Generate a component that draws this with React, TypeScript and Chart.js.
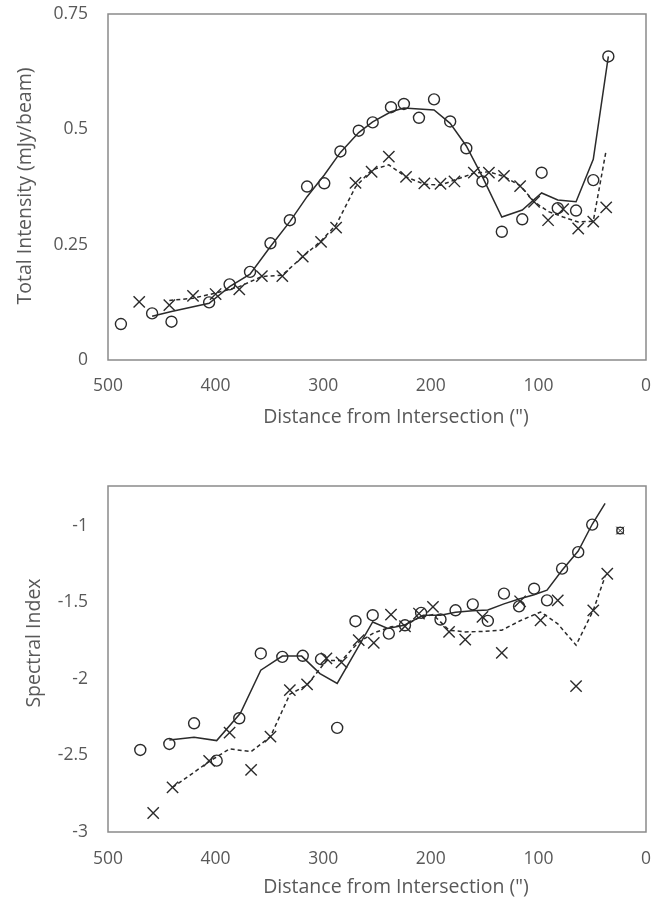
import React, { useEffect, useRef } from "react";
import { Chart, registerables } from "chart.js";

Chart.register(...registerables);

// ---------- Top panel: Total Intensity ----------
const topCircleX = [488, 459, 441, 406, 387, 368, 349, 331, 315, 299, 284, 267, 254, 237, 225, 211, 197, 182, 167, 152, 134, 115, 97, 82, 65, 49, 35];
const topCircleY = [0.078, 0.101, 0.083, 0.125, 0.164, 0.191, 0.253, 0.303, 0.376, 0.383, 0.452, 0.497, 0.515, 0.548, 0.555, 0.525, 0.565, 0.517, 0.459, 0.387, 0.278, 0.305, 0.406, 0.329, 0.324, 0.39, 0.658];
const topSolidX = [459, 441, 406, 387, 368, 349, 331, 315, 299, 284, 267, 254, 237, 225, 211, 197, 182, 167, 152, 134, 115, 97, 82, 65, 49, 35];
const topSolidY = [0.095, 0.105, 0.123, 0.159, 0.186, 0.246, 0.3, 0.354, 0.401, 0.45, 0.493, 0.516, 0.538, 0.546, 0.544, 0.542, 0.513, 0.464, 0.397, 0.31, 0.325, 0.362, 0.347, 0.343, 0.435, 0.658];
const topCrossX = [471, 443, 421, 400, 378, 357, 338, 319, 302, 288, 270, 255, 239, 223, 206, 191, 178, 160, 146, 132, 117, 104, 91, 77, 63, 49, 37];
const topCrossY = [0.126, 0.119, 0.139, 0.143, 0.153, 0.182, 0.182, 0.224, 0.256, 0.287, 0.384, 0.408, 0.441, 0.397, 0.383, 0.382, 0.387, 0.406, 0.406, 0.399, 0.377, 0.343, 0.303, 0.327, 0.285, 0.3, 0.331];
const topDashX = [443, 421, 400, 378, 357, 338, 319, 302, 288, 270, 255, 239, 223, 206, 191, 178, 160, 146, 132, 117, 104, 91, 77, 63, 49, 37];
const topDashY = [0.129, 0.134, 0.145, 0.159, 0.181, 0.184, 0.224, 0.258, 0.293, 0.375, 0.412, 0.423, 0.397, 0.381, 0.379, 0.39, 0.405, 0.408, 0.398, 0.378, 0.343, 0.322, 0.31, 0.299, 0.301, 0.455];
const topYTicks = [0, 0.25, 0.5, 0.75];
const topYTitle = "Total Intensity (mJy/beam)";

// ---------- Bottom panel: Spectral Index ----------
const botCircleX = [470, 443, 420, 399, 378, 358, 338, 319, 302, 287, 270, 254, 239, 224, 209, 191, 177, 161, 147, 132, 118, 104, 92, 78, 63, 50];
const botCircleY = [-2.464, -2.425, -2.29, -2.534, -2.257, -1.834, -1.856, -1.849, -1.871, -2.32, -1.623, -1.584, -1.704, -1.65, -1.569, -1.612, -1.552, -1.513, -1.621, -1.443, -1.526, -1.411, -1.487, -1.28, -1.172, -0.992];
const botSolidX = [443, 420, 399, 377, 358, 338, 320, 303, 287, 254, 240, 225, 207, 191, 177, 161, 147, 132, 118, 104, 92, 78, 63, 50, 38];
const botSolidY = [-2.399, -2.381, -2.403, -2.225, -1.943, -1.851, -1.851, -1.965, -2.03, -1.628, -1.67, -1.65, -1.584, -1.584, -1.565, -1.555, -1.55, -1.51, -1.478, -1.45, -1.42, -1.29, -1.165, -0.99, -0.853];
const botCrossX = [458, 440, 406, 387, 367, 349, 331, 315, 297, 283, 267, 253, 237, 224, 211, 198, 183, 168, 152, 134, 117, 98, 82, 65, 49, 36];
const botCrossY = [-2.876, -2.709, -2.536, -2.351, -2.594, -2.377, -2.073, -2.036, -1.866, -1.892, -1.747, -1.765, -1.58, -1.656, -1.573, -1.53, -1.693, -1.743, -1.595, -1.83, -1.493, -1.617, -1.487, -2.047, -1.552, -1.313];
const botDashX = [440, 406, 387, 367, 349, 331, 315, 297, 283, 267, 253, 237, 224, 211, 198, 183, 168, 152, 134, 117, 98, 82, 65, 49, 38];
const botDashY = [-2.709, -2.54, -2.457, -2.475, -2.377, -2.1, -2.04, -1.88, -1.88, -1.76, -1.7, -1.66, -1.65, -1.6, -1.58, -1.682, -1.693, -1.69, -1.682, -1.62, -1.563, -1.64, -1.78, -1.552, -1.33];
const botOutlierX = [24];
const botOutlierY = [-1.031];
const botYTicks = [-3, -2.5, -2, -1.5, -1];
const botYTitle = "Spectral Index";

const xTicks = [500, 400, 300, 200, 100, 0];
const xTitle = 'Distance from Intersection (")';

const TEXT = "#595959";
const INK = "#2b2b2b";
const FRAME = "#8a8a8a";
const FONT = "'Open Sans', 'DejaVu Sans', sans-serif";
const TICK_SIZE = 17.5;
const TITLE_SIZE = 19.5;

const pts = (xs: number[], ys: number[]) => xs.map((x, i) => ({ x, y: ys[i] }));

const framePlugin = {
  id: "frame",
  beforeDatasetsDraw(chart: any) {
    const { ctx, chartArea } = chart;
    ctx.save();
    ctx.strokeStyle = FRAME;
    ctx.lineWidth = 1.5;
    ctx.strokeRect(chartArea.left, chartArea.top, chartArea.right - chartArea.left, chartArea.bottom - chartArea.top);
    ctx.restore();
  },
};

// Axis titles placed where the reference has them (slightly off-centre like Excel)
const axisTitlePlugin = {
  id: "axisTitles",
  afterDraw(chart: any, _args: any, o: any) {
    const { ctx } = chart;
    ctx.save();
    ctx.fillStyle = TEXT;
    ctx.font = `${TITLE_SIZE}px ${FONT}`;
    ctx.textAlign = "center";
    ctx.textBaseline = "middle";
    ctx.fillText(o.xText, o.xPos[0], o.xPos[1]);
    ctx.translate(o.yPos[0], o.yPos[1]);
    ctx.rotate(-Math.PI / 2);
    ctx.fillText(o.yText, 0, 0);
    ctx.restore();
  },
};

function makeConfig(opts: any) {
  const datasets: any[] = [
    {
      data: pts(opts.solidX, opts.solidY),
      showLine: true,
      borderColor: INK,
      borderWidth: 1.5,
      pointRadius: 0,
      tension: 0,
    },
    {
      data: pts(opts.dashX, opts.dashY),
      showLine: true,
      borderColor: INK,
      borderWidth: 1.5,
      borderDash: [4, 3],
      pointRadius: 0,
      tension: 0,
    },
    {
      data: pts(opts.circleX, opts.circleY),
      pointStyle: "circle",
      pointRadius: 5.5,
      pointBorderWidth: 1.4,
      pointBorderColor: INK,
      pointBackgroundColor: "rgba(0,0,0,0)",
      showLine: false,
    },
    {
      data: pts(opts.crossX, opts.crossY),
      pointStyle: "crossRot",
      pointRadius: 8,
      pointBorderWidth: 1.4,
      pointBorderColor: INK,
      showLine: false,
    },
  ];
  if (opts.outX) {
    datasets.push(
      { data: pts(opts.outX, opts.outY), pointStyle: "rect", pointRadius: 4.5, pointBorderWidth: 1, pointBorderColor: INK, pointBackgroundColor: "rgba(0,0,0,0)", showLine: false },
      { data: pts(opts.outX, opts.outY), pointStyle: "circle", pointRadius: 3.5, pointBorderWidth: 1, pointBorderColor: INK, pointBackgroundColor: "rgba(0,0,0,0)", showLine: false },
      { data: pts(opts.outX, opts.outY), pointStyle: "crossRot", pointRadius: 5.5, pointBorderWidth: 1, pointBorderColor: INK, showLine: false }
    );
  }
  return {
    type: "scatter",
    data: { datasets },
    plugins: [framePlugin, axisTitlePlugin],
    options: {
      animation: false,
      responsive: false,
      maintainAspectRatio: false,
      events: [],
      layout: { padding: { left: 0, right: 25, top: opts.padTop, bottom: opts.padBottom } },
      plugins: {
        legend: { display: false },
        tooltip: { enabled: false },
        axisTitles: { xText: xTitle, yText: opts.yTitle, xPos: opts.xTitlePos, yPos: opts.yTitlePos },
      },
      scales: {
        x: {
          type: "linear",
          reverse: true,
          min: 0,
          max: 500,
          grid: { display: false, drawTicks: false },
          border: { display: false },
          afterBuildTicks: (s: any) => {
            s.ticks = xTicks.map((v) => ({ value: v }));
          },
          afterFit: (s: any) => {
            s.height = opts.xAxisH;
            s.paddingLeft = 0;
            s.paddingRight = 0;
          },
          ticks: {
            color: TEXT,
            font: { family: FONT, size: TICK_SIZE },
            padding: opts.xTickPad,
            maxRotation: 0,
            callback: (v: number) => String(v),
          },
          title: { display: false },
        },
        y: {
          type: "linear",
          min: opts.yMin,
          max: opts.yMax,
          grid: { display: false, drawTicks: false },
          border: { display: false },
          afterBuildTicks: (s: any) => {
            s.ticks = opts.yTicks.map((v: number) => ({ value: v }));
          },
          afterFit: (s: any) => {
            s.width = 108;
            s.paddingTop = 0;
            s.paddingBottom = 0;
          },
          ticks: {
            color: TEXT,
            font: { family: FONT, size: TICK_SIZE },
            padding: 20,
            callback: (v: number) => String(v),
          },
          title: { display: false },
        },
      },
    },
  };
}

function Panel(props: { cfg: any; top: number; height: number }) {
  const ref = useRef<HTMLCanvasElement>(null);
  useEffect(() => {
    if (!ref.current) return;
    const chart = new Chart(ref.current, props.cfg);
    return () => chart.destroy();
  }, []);
  return (
    <canvas
      ref={ref}
      width={671}
      height={props.height}
      style={{ position: "absolute", left: 0, top: props.top, width: 671, height: props.height, display: "block" }}
    />
  );
}

export default function App() {
  const topCfg = makeConfig({
    circleX: topCircleX, circleY: topCircleY,
    solidX: topSolidX, solidY: topSolidY,
    crossX: topCrossX, crossY: topCrossY,
    dashX: topDashX, dashY: topDashY,
    yMin: 0, yMax: 0.75, yTicks: topYTicks,
    yTitle: topYTitle,
    padTop: 14, padBottom: 10, xAxisH: 70, xTickPad: 16,
    xTitlePos: [396, 417], yTitlePos: [25, 186],
  });
  const botCfg = makeConfig({
    circleX: botCircleX, circleY: botCircleY,
    solidX: botSolidX, solidY: botSolidY,
    crossX: botCrossX, crossY: botCrossY,
    dashX: botDashX, dashY: botDashY,
    outX: botOutlierX, outY: botOutlierY,
    yMin: -3, yMax: -0.74, yTicks: botYTicks,
    yTitle: botYTitle,
    padTop: 46, padBottom: 4, xAxisH: 65, xTickPad: 17,
    xTitlePos: [396, 447], yTitlePos: [34, 203],
  });
  return (
    <div style={{ position: "absolute", left: 0, top: 0, width: 671, height: 901, background: "#fff" }}>
      <Panel cfg={topCfg} top={0} height={440} />
      <Panel cfg={botCfg} top={440} height={461} />
    </div>
  );
}
